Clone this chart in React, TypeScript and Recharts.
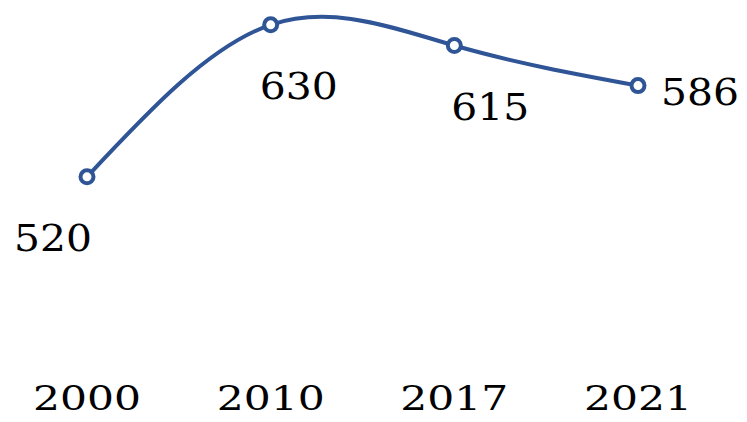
import { LineChart, Line, XAxis, YAxis, LabelList } from "recharts";

const YEARS = ["2000", "2010", "2017", "2021"];
const VALUES = [520, 630, 615, 586];

// label placement relative to each point (dx = centre offset, dy = baseline offset)
const LABEL_OFFSETS = [
  { dx: -34, dy: 74 },
  { dx: 28, dy: 74 },
  { dx: 36, dy: 74 },
  { dx: 62, dy: 19 },
];

const BLUE = "#2F5597";
const FONT = "'DejaVu Serif', 'Liberation Serif', serif";

const data = YEARS.map((year, i) => ({ year, value: VALUES[i] }));

const YearTick = ({ x, y, payload }: { x?: number; y?: number; payload?: { value: string } }) => (
  <text
    x={x}
    y={(y ?? 0) + 87}
    textAnchor="middle"
    fontFamily={FONT}
    fontSize={34}
    fill="#000"
    textLength={108}
    lengthAdjust="spacingAndGlyphs"
  >
    {payload?.value}
  </text>
);

const ValueLabel = (props: { x?: number; y?: number; value?: number; index?: number }) => {
  const { x = 0, y = 0, value, index = 0 } = props;
  const off = LABEL_OFFSETS[index];
  return (
    <text
      x={x + off.dx}
      y={y + off.dy}
      textAnchor="middle"
      fontFamily={FONT}
      fontSize={37}
      fill="#000"
      textLength={78}
      lengthAdjust="spacingAndGlyphs"
    >
      {value}
    </text>
  );
};

export default function App() {
  return (
    <div style={{ position: "absolute", left: 0, top: 0, background: "#fff" }}>
      <LineChart
        width={747}
        height={422}
        data={data}
        margin={{ top: 11, right: 109, bottom: 47, left: 87 }}
      >
        <XAxis
          dataKey="year"
          axisLine={false}
          tickLine={false}
          height={60}
          padding={{ left: 0, right: 0 }}
          tick={<YearTick />}
          interval={0}
        />
        <YAxis hide domain={[420, 640]} width={0} />
        <Line
          type="natural"
          dataKey="value"
          stroke={BLUE}
          strokeWidth={4}
          dot={{ r: 6.5, fill: "#fff", stroke: BLUE, strokeWidth: 4 }}
          activeDot={false}
          isAnimationActive={false}
        >
          <LabelList dataKey="value" content={<ValueLabel />} />
        </Line>
      </LineChart>
    </div>
  );
}
